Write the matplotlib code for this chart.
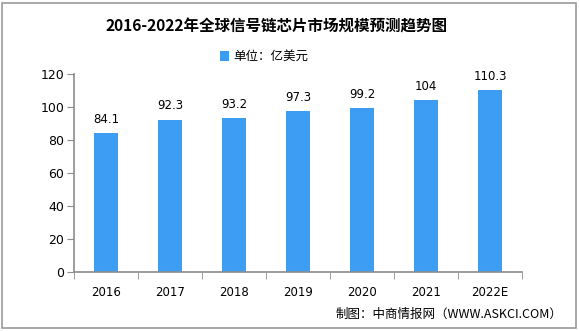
import numpy as np
import matplotlib.pyplot as plt
from matplotlib.patches import Rectangle

plt.rcParams['font.family'] = ['Noto Sans CJK SC', 'DejaVu Sans']

# Data ------------------------------------------------------------
years = ['2016', '2017', '2018', '2019', '2020', '2021', '2022E']
values = [84.1, 92.3, 93.2, 97.3, 99.2, 104, 110.3]
labels = ['84.1', '92.3', '93.2', '97.3', '99.2', '104', '110.3']

title = '2016-2022年全球信号链芯片市场规模预测趋势图'
legend_label = '单位：亿美元'
source = '制图：中商情报网（WWW.ASKCI.COM）'

bar_color = '#3D9DF2'
axis_color = '#8C8C8C'

# Figure ----------------------------------------------------------
W, H = 579, 331
fig = plt.figure(figsize=(W / 100, H / 100), dpi=100)
fig.patch.set_facecolor('white')

# outer frame
fig.add_artist(Rectangle((2 / W, 3 / H), 574 / W, 325 / H, transform=fig.transFigure,
                         fill=False, edgecolor='#999999', linewidth=1.2))

ax = fig.add_axes([74 / W, 59 / H, 448 / W, 198 / H])
x = np.arange(len(years))
ax.bar(x, values, width=0.375, color=bar_color, zorder=2)
for xi, v, t in zip(x, values, labels):
    ax.text(xi, v + 4.5, t, ha='center', va='bottom', fontsize=8.5, family='DejaVu Sans')

ax.set_xlim(-0.5, len(years) - 0.5)
ax.set_ylim(0, 120)
ax.set_yticks(range(0, 121, 20))
ax.set_xticks(x)
ax.set_xticklabels(years, fontsize=8.5, family='DejaVu Sans')
ax.set_xticks(np.arange(-0.5, len(years), 1), minor=True)
ax.tick_params(axis='x', which='major', length=0, pad=10)
ax.tick_params(axis='x', which='minor', length=5, color=axis_color, direction='out')
ax.tick_params(axis='y', length=5, color=axis_color, labelsize=9, pad=2)
for lab in ax.get_yticklabels():
    lab.set_family('DejaVu Sans')

for s in ['top', 'right']:
    ax.spines[s].set_visible(False)
for s in ['left', 'bottom']:
    ax.spines[s].set_color(axis_color)
    ax.spines[s].set_linewidth(1.2)

# Title, legend, source ------------------------------------------
fig.text(0.478, 1 - 27 / H, title, ha='center', va='center', fontsize=11.2, fontweight='bold')
fig.add_artist(Rectangle((220 / W, 1 - 61 / H), 9 / W, 10 / H, transform=fig.transFigure,
                         facecolor=bar_color, edgecolor='none'))
fig.text(233 / W, 1 - 56 / H, legend_label, ha='left', va='center', fontsize=9)
fig.text(562 / W, 1 - 314 / H, source, ha='right', va='center', fontsize=9)

fig.savefig('out.png', dpi=100)
